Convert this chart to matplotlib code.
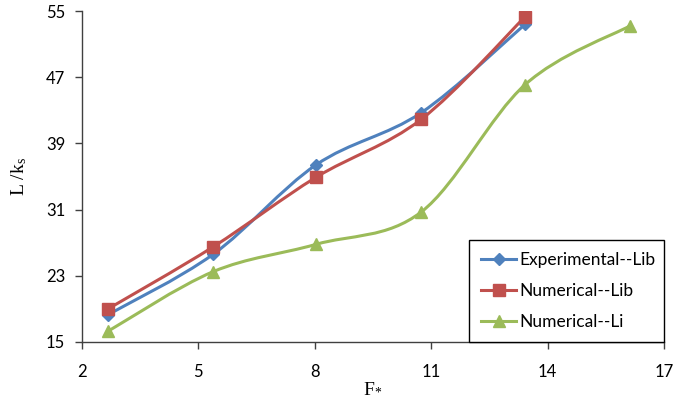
import numpy as np
import matplotlib
matplotlib.use('Agg')
import matplotlib.pyplot as plt
from matplotlib.path import Path
from matplotlib.patches import PathPatch
from matplotlib.lines import Line2D

# data
f_lib = [2.67, 5.38, 8.03, 10.74, 13.42]
exp_lib = [18.3, 25.6, 36.4, 42.7, 53.4]
num_lib = [19.0, 26.5, 34.9, 41.9, 54.3]
f_li = [2.67, 5.38, 8.03, 10.74, 13.42, 16.12]
num_li = [16.3, 23.5, 26.8, 30.7, 46.1, 53.2]

labels = ['Experimental--Lib', 'Numerical--Lib', 'Numerical--Li']
colors = ['#4F81BD', '#C0504D', '#9BBB59']
markers = ['D', 's', '^']
msizes = [6, 8, 8]
xticks = [2, 5, 8, 11, 14, 17]
yticks = [15, 23, 31, 39, 47, 55]

TICK_FONT = 'Lato'
LABEL_FONT = 'Liberation Serif'
plt.rcParams['mathtext.fontset'] = 'custom'
plt.rcParams['mathtext.rm'] = LABEL_FONT
plt.rcParams['mathtext.it'] = LABEL_FONT


def smooth_path(x, y, t=1 / 6):
    """Excel-like smoothed line as cubic bezier segments"""
    x = np.asarray(x, float)
    y = np.asarray(y, float)
    n = len(x)
    verts = [(x[0], y[0])]
    codes = [Path.MOVETO]
    for i in range(n - 1):
        x0, y0 = (x[i - 1], y[i - 1]) if i > 0 else (x[i], y[i])
        x3, y3 = (x[i + 2], y[i + 2]) if i + 2 < n else (x[i + 1], y[i + 1])
        c1 = (x[i] + (x[i + 1] - x0) * t, y[i] + (y[i + 1] - y0) * t)
        c2 = (x[i + 1] - (x3 - x[i]) * t, y[i + 1] - (y3 - y[i]) * t)
        verts += [c1, c2, (x[i + 1], y[i + 1])]
        codes += [Path.CURVE4] * 3
    return Path(verts, codes)


fig = plt.figure(figsize=(6.76, 4.05), dpi=100)
ax = fig.add_axes([82 / 676, 1 - 342 / 405, 582 / 676, 331 / 405])

series = [(f_lib, exp_lib), (f_lib, num_lib), (f_li, num_li)]
handles = []
for (xs, ys), lab, c, m, ms in zip(series, labels, colors, markers, msizes):
    ax.add_patch(PathPatch(smooth_path(xs, ys), fill=False, edgecolor=c,
                           lw=2.2, zorder=2, capstyle='round'))
    ax.plot(xs, ys, ls='none', marker=m, color=c, ms=ms, zorder=3)
    handles.append(Line2D([], [], color=c, lw=2.2, marker=m, ms=ms, label=lab))

ax.set_xlim(2, 17)
ax.set_ylim(15, 55)
ax.set_xticks(xticks)
ax.set_yticks(yticks)
ax.spines['top'].set_visible(False)
ax.spines['right'].set_visible(False)
for s in ('left', 'bottom'):
    ax.spines[s].set_color('#404040')
    ax.spines[s].set_linewidth(1.0)
ax.tick_params(direction='out', length=5, width=1, color='#404040',
               labelsize=12, pad=7)
for lbl in ax.get_xticklabels() + ax.get_yticklabels():
    lbl.set_fontfamily(TICK_FONT)
ax.tick_params(axis='x', pad=11)

ax.set_xlabel(r'F$_{*}$', fontfamily=LABEL_FONT, fontsize=14, labelpad=0)
ax.set_ylabel(r'L /k$_{\mathrm{s}}$', fontfamily=LABEL_FONT, fontsize=14,
              labelpad=12)

leg = ax.legend(handles=handles, loc='lower left',
                bbox_to_anchor=(0.665, 0.0, 0.335, 0.317), mode='expand',
                fancybox=False, edgecolor='black', framealpha=1,
                prop={'family': TICK_FONT, 'size': 12.5}, handlelength=2.0,
                handletextpad=0.2, labelspacing=0.85, borderpad=0.7,
                borderaxespad=0)
leg.get_frame().set_linewidth(1.0)
leg.set_zorder(5)

fig.savefig('out.png', dpi=100)
